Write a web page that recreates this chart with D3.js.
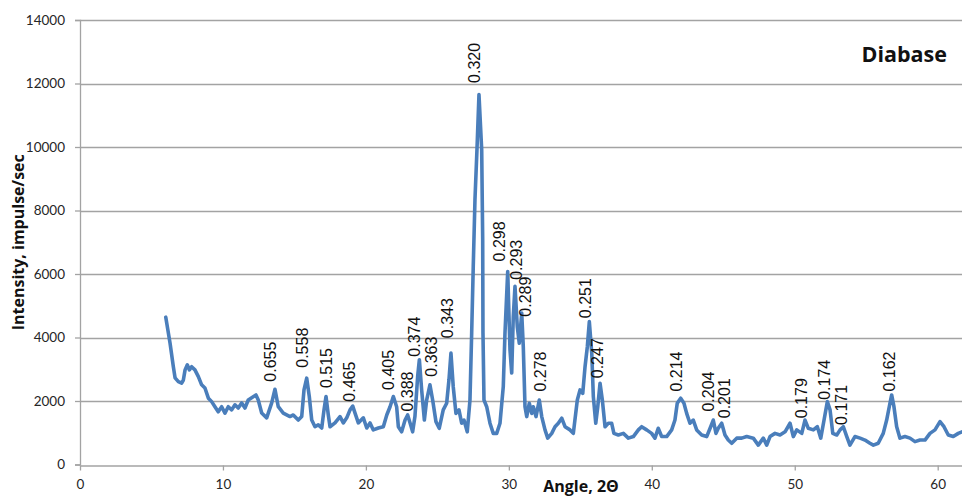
<!DOCTYPE html>
<html>
<head>
<meta charset="utf-8">
<script src="https://cdn.jsdelivr.net/npm/d3@7"></script>
<style>
  html, body { margin: 0; padding: 0; background: #fff; }
  svg { display: block; }
</style>
</head>
<body>
<svg id="chart" width="962" height="497"></svg>
<script>
// X-ray diffraction pattern of diabase: 2θ angle vs. intensity
const angles = [
  6.00, 6.30, 6.53, 6.65, 6.88, 7.11, 7.23, 7.35, 7.51, 7.65, 7.81, 8.04, 8.28, 8.51, 8.74, 8.98,
  9.21, 9.44, 9.67, 9.91, 10.14, 10.37, 10.61, 10.84, 11.07, 11.31, 11.54, 11.77, 12.01, 12.31, 12.47, 12.71,
  13.06, 13.41, 13.64, 13.87, 14.22, 14.69, 14.92, 15.27, 15.51, 15.67, 15.86, 16.04, 16.21, 16.44, 16.67, 16.91,
  17.07, 17.21, 17.37, 17.49, 17.84, 18.19, 18.42, 18.66, 18.89, 19.08, 19.24, 19.47, 19.82, 20.06, 20.29, 20.52,
  20.87, 21.22, 21.46, 21.69, 21.92, 22.15, 22.27, 22.50, 22.74, 22.92, 23.09, 23.27, 23.43, 23.62, 23.74, 23.90,
  24.09, 24.25, 24.48, 24.67, 24.90, 25.13, 25.41, 25.65, 25.81, 25.95, 26.11, 26.30, 26.51, 26.70, 26.86, 27.09,
  27.28, 27.40, 27.51, 27.63, 27.77, 27.91, 28.10, 28.17, 28.19, 28.26, 28.45, 28.68, 28.91, 29.15, 29.38, 29.61,
  29.73, 29.92, 30.08, 30.20, 30.31, 30.43, 30.59, 30.73, 30.90, 31.01, 31.13, 31.25, 31.43, 31.60, 31.71, 31.90,
  32.13, 32.30, 32.53, 32.72, 33.00, 33.23, 33.46, 33.70, 33.93, 34.28, 34.51, 34.79, 34.98, 35.17, 35.33, 35.49,
  35.63, 35.80, 35.91, 36.08, 36.22, 36.38, 36.54, 36.73, 36.96, 37.19, 37.35, 37.66, 38.01, 38.36, 38.71, 39.06,
  39.29, 39.64, 39.99, 40.22, 40.45, 40.69, 41.04, 41.39, 41.62, 41.78, 42.02, 42.25, 42.44, 42.67, 42.90, 43.14,
  43.49, 43.84, 44.12, 44.30, 44.49, 44.65, 44.89, 45.12, 45.35, 45.59, 45.94, 46.29, 46.64, 47.10, 47.45, 47.80,
  48.04, 48.27, 48.62, 48.97, 49.32, 49.67, 49.90, 50.14, 50.49, 50.72, 50.95, 51.30, 51.58, 51.82, 52.05, 52.28,
  52.47, 52.66, 52.94, 53.17, 53.40, 53.64, 53.86, 54.21, 54.57, 54.91, 55.26, 55.50, 55.84, 56.19, 56.43, 56.66,
  56.78, 56.94, 57.13, 57.36, 57.71, 58.06, 58.41, 58.76, 59.11, 59.46, 59.81, 60.16, 60.44, 60.74, 61.09, 61.44,
  61.70
];
const intensities = [
  4640, 3820, 3080, 2730, 2610, 2560, 2660, 2980, 3140, 2980, 3080, 2980, 2770, 2510, 2410, 2090,
  1980, 1820, 1660, 1820, 1620, 1820, 1720, 1880, 1780, 1940, 1780, 2030, 2100, 2190, 2030, 1620,
  1470, 1940, 2370, 1820, 1620, 1510, 1560, 1400, 1510, 2350, 2720, 2140, 1400, 1190, 1250, 1150,
  1720, 2140, 1560, 1190, 1310, 1510, 1310, 1470, 1720, 1840, 1620, 1310, 1470, 1150, 1310, 1090,
  1150, 1190, 1560, 1820, 2140, 1820, 1190, 1030, 1400, 1560, 1310, 1030, 1510, 2770, 3300, 2350,
  1400, 2030, 2510, 2030, 1350, 1140, 1720, 1930, 2660, 3510, 2450, 1610, 1720, 1300, 1400, 1030,
  2030, 4150, 6240, 8340, 9920, 11650, 9920, 7080, 4150, 2030, 1820, 1300, 980, 980, 1300, 2450,
  4150, 6080, 3610, 2880, 4660, 5610, 4340, 3820, 4770, 3710, 1820, 1510, 1930, 1610, 1820, 1510,
  2030, 1510, 1090, 830, 980, 1190, 1300, 1460, 1190, 1090, 980, 2030, 2350, 2240, 3080, 3710,
  4500, 3510, 2140, 1300, 1820, 2560, 2030, 1190, 1300, 1300, 980, 930, 980, 830, 880, 1090,
  1190, 1090, 980, 830, 1140, 880, 880, 1090, 1400, 1930, 2090, 1930, 1610, 1300, 1400, 1090,
  930, 880, 1190, 1400, 980, 1140, 1300, 930, 770, 670, 830, 830, 880, 830, 610, 830,
  610, 880, 980, 930, 1030, 1300, 880, 1090, 980, 1400, 1140, 1090, 1190, 830, 1400, 1980,
  1720, 980, 930, 1090, 1190, 880, 610, 880, 830, 770, 670, 610, 670, 980, 1400, 1930,
  2190, 1820, 1190, 830, 880, 830, 720, 770, 770, 980, 1090, 1350, 1190, 930, 880, 980,
  1030
];

// Interplanar spacings (nm) labelling the reflections, with the point each label sits over
const peakLabels = ["0.655", "0.558", "0.515", "0.465", "0.405", "0.388", "0.374", "0.363", "0.343", "0.320",
  "0.298", "0.293", "0.289", "0.278", "0.251", "0.247", "0.214", "0.204", "0.201", "0.179", "0.174", "0.171", "0.162"];
const peakAngles = [13.36, 15.57, 17.21, 18.82, 21.55, 22.91, 23.43, 24.59, 25.74, 27.63,
  29.38, 30.57, 31.13, 32.18, 35.33, 36.20, 41.73, 44.00, 45.12, 50.47, 52.08, 53.24, 56.63];
const peakLevels = [2450, 2890, 2250, 1820, 2190, 1510, 3240, 2610, 3820, 11860,
  6240, 5660, 4500, 2140, 4450, 2560, 2140, 1510, 1300, 1300, 1880, 1090, 2140];

const xTicks = [0, 10, 20, 30, 40, 50, 60];
const yTicks = [0, 2000, 4000, 6000, 8000, 10000, 12000, 14000];

const width = 962, height = 497;
const margin = { top: 20, right: 0, bottom: 32.5, left: 80 };

const svg = d3.select("#chart");

const x = d3.scaleLinear().domain([0, 61.7]).range([margin.left, width - margin.right]);
const y = d3.scaleLinear().domain([0, 14000]).range([height - margin.bottom, margin.top]);

const gridColor = "#a3a3a3";
const tickFont = "Lato, 'Open Sans', sans-serif";

// horizontal gridlines
svg.append("g")
  .selectAll("line")
  .data(yTicks.filter(d => d > 0))
  .join("line")
  .attr("x1", x(0)).attr("x2", width)
  .attr("y1", d => Math.round(y(d)) + 0.5).attr("y2", d => Math.round(y(d)) + 0.5)
  .attr("stroke", gridColor).attr("stroke-width", 1.3);

// y axis
const yAxis = svg.append("g")
  .attr("transform", `translate(${x(0)},0)`)
  .call(d3.axisLeft(y).tickValues(yTicks).tickSize(5).tickPadding(10).tickFormat(d3.format("d")));
yAxis.select(".domain").attr("stroke", gridColor).attr("stroke-width", 1.3);
yAxis.selectAll(".tick line").attr("stroke", gridColor).attr("stroke-width", 1.3);
yAxis.selectAll(".tick text")
  .attr("font-family", tickFont).attr("font-size", 13.5).attr("fill", "#262626");

// x axis
const xAxis = svg.append("g")
  .attr("transform", `translate(0,${Math.round(y(0)) + 0.5})`)
  .call(d3.axisBottom(x).tickValues(xTicks).tickSize(5).tickPadding(9).tickSizeOuter(0));
xAxis.select(".domain").attr("stroke", gridColor).attr("stroke-width", 1.3);
xAxis.selectAll(".tick line").attr("stroke", gridColor).attr("stroke-width", 1.3);
xAxis.selectAll(".tick text")
  .attr("font-family", tickFont).attr("font-size", 13.5).attr("fill", "#262626");

// diffraction curve
const line = d3.line()
  .x(d => x(d[0]))
  .y(d => y(d[1]))
  .curve(d3.curveLinear);

svg.append("path")
  .datum(angles.map((a, i) => [a, intensities[i]]))
  .attr("d", line)
  .attr("fill", "none")
  .attr("stroke", "#4a7ebb")
  .attr("stroke-width", 3.6)
  .attr("stroke-linejoin", "round")
  .attr("stroke-linecap", "round");

// d-spacing labels, written upward just above their reflections
svg.append("g")
  .selectAll("text")
  .data(peakLabels)
  .join("text")
  .attr("transform", (d, i) => `translate(${x(peakAngles[i]) + 5.5},${y(peakLevels[i]) - 5}) rotate(-90)`)
  .attr("text-anchor", "start")
  .attr("font-family", "'Liberation Sans', Arial, sans-serif")
  .attr("font-size", 16)
  .attr("fill", "#111")
  .text(d => d);

// axis titles
svg.append("text")
  .attr("transform", `translate(24,${(y(0) + y(14000)) / 2}) rotate(-90)`)
  .attr("text-anchor", "middle")
  .attr("font-family", "'Open Sans', sans-serif")
  .attr("font-weight", "bold")
  .attr("font-size", 16)
  .attr("fill", "#111")
  .text("Intensity, impulse/sec");

svg.append("text")
  .attr("x", 581).attr("y", 492)
  .attr("text-anchor", "middle")
  .attr("font-family", "'Open Sans', sans-serif")
  .attr("font-weight", "bold")
  .attr("font-size", 16)
  .attr("fill", "#111")
  .text("Angle, 2Θ");

// sample name
svg.append("text")
  .attr("x", 947).attr("y", 62)
  .attr("text-anchor", "end")
  .attr("font-family", "'Open Sans', sans-serif")
  .attr("font-weight", "bold")
  .attr("font-size", 21.5)
  .attr("fill", "#111")
  .text("Diabase");
</script>
</body>
</html>
